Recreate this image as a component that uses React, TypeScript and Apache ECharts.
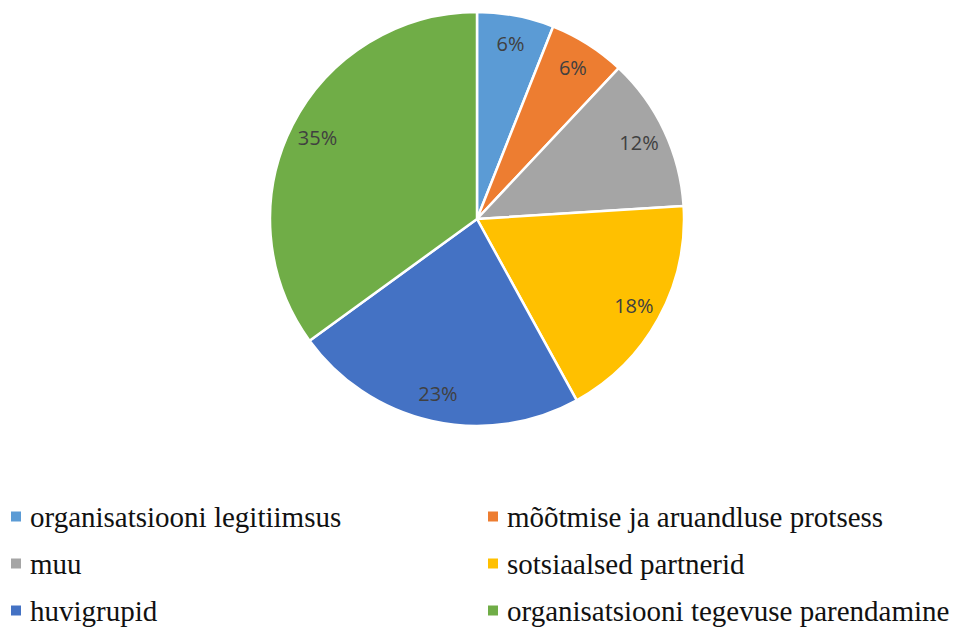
import React, { useEffect, useRef } from "react";
import * as echarts from "echarts";

const categories = [
  "organisatsiooni legitiimsus",
  "mõõtmise ja aruandluse protsess",
  "muu",
  "sotsiaalsed partnerid",
  "huvigrupid",
  "organisatsiooni tegevuse parendamine",
];
const values = [6, 6, 12, 18, 23, 35];
const colors = ["#5B9BD5", "#ED7D31", "#A5A5A5", "#FFC000", "#4472C4", "#70AD47"];

const SERIF = "Liberation Serif";

export default function App() {
  const ref = useRef<HTMLDivElement>(null);
  useEffect(() => {
    document.body.style.margin = "0";
    const chart = echarts.init(ref.current!, null, { renderer: "svg" });
    const center = [477, 219];
    const legendText = {
      fontFamily: SERIF,
      fontSize: 29,
      color: "#111",
      padding: [0, 0, 0, 4],
    };
    const legendBase = {
      orient: "vertical",
      top: 502,
      height: 400,
      padding: 0,
      itemWidth: 10,
      itemHeight: 10,
      itemGap: 18,
      icon: "rect",
      selectedMode: false,
      itemStyle: { borderWidth: 0 },
      textStyle: legendText,
    };
    const item = (i: number) => ({ name: categories[i], textStyle: legendText });
    chart.setOption({
      animation: false,
      textStyle: { fontFamily: SERIF },
      legend: [
        { ...legendBase, left: 11, data: [item(0), item(2), item(4)] },
        { ...legendBase, left: 488, data: [item(1), item(3), item(5)] },
      ],
      series: [
        {
          type: "pie",
          center,
          radius: [0, 207],
          startAngle: 90,
          clockwise: true,
          silent: true,
          label: { show: false },
          labelLine: { show: false },
          itemStyle: { borderColor: "#fff", borderWidth: 2.5 },
          data: categories.map((name, i) => ({
            name,
            value: values[i],
            itemStyle: { color: colors[i] },
          })),
        },
        {
          type: "pie",
          center,
          radius: [145, 207],
          startAngle: 90,
          clockwise: true,
          silent: true,
          labelLine: { show: false },
          itemStyle: { color: "transparent", borderWidth: 0 },
          label: {
            show: true,
            position: "inside",
            formatter: (p: any) => p.value + "%",
            fontFamily: "Open Sans",
            fontSize: 20,
            color: "#404040",
          },
          data: categories.map((name, i) => ({
            name,
            value: values[i],
            itemStyle: { color: "transparent" },
          })),
        },
      ],
    });
    return () => chart.dispose();
  }, []);
  return <div ref={ref} style={{ width: 958, height: 627 }} />;
}
